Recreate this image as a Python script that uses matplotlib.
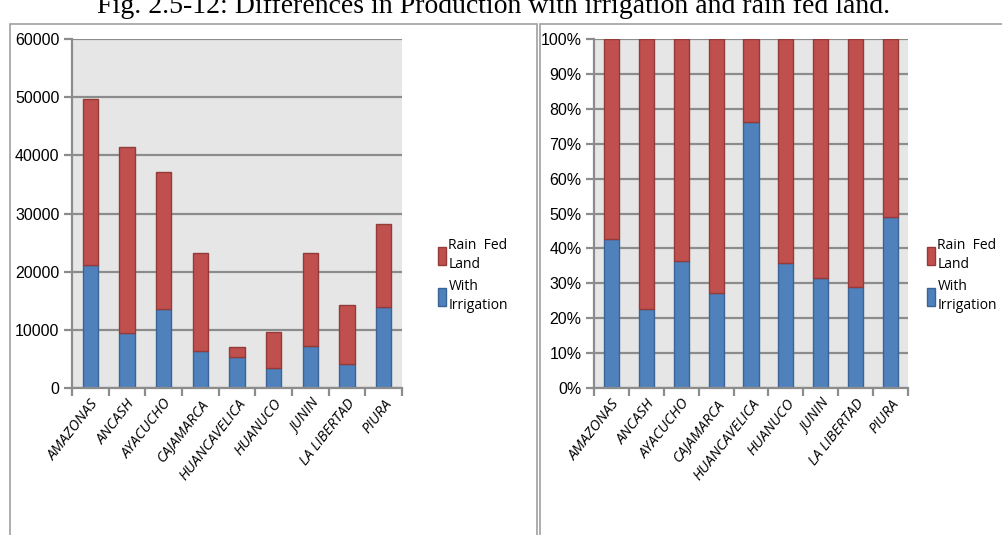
#
# Production with irrigation vs rain fed land, by department.
# Left: stacked absolute values, right: 100% stacked.
#

import numpy as np
import matplotlib
matplotlib.use("Agg")
import matplotlib.pyplot as plt
from matplotlib.patches import Rectangle
from matplotlib.ticker import PercentFormatter

departments = ["AMAZONAS", "ANCASH", "AYACUCHO", "CAJAMARCA", "HUANCAVELICA",
               "HUANUCO", "JUNIN", "LA LIBERTAD", "PIURA"]
irrigation = [21200, 9450, 13550, 6300, 5320, 3430, 7270, 4120, 13850]
rain_fed = [28500, 32050, 23550, 16830, 1670, 6130, 15860, 10130, 14430]

BLUE, BLUE_EDGE = "#4F81BD", "#3A6396"
RED, RED_EDGE = "#C0504D", "#943B39"
GRID = "#8C8C8C"
BG = "#E6E6E6"
NUM_FONT = ["Liberation Sans", "DejaVu Sans"]
LABEL_FONT = ["Open Sans", "DejaVu Sans"]

W, H = 1003, 535
fig = plt.figure(figsize=(W / 100, H / 100), dpi=100)


def px_axes(x0, y0, x1, y1):
    return fig.add_axes([x0 / W, 1 - y1 / H, (x1 - x0) / W, (y1 - y0) / H])


def style_axes(ax):
    ax.set_facecolor(BG)
    ax.set_axisbelow(True)
    ax.yaxis.grid(True, color=GRID, linewidth=1.6)
    for s in ("top", "right"):
        ax.spines[s].set_visible(False)
    for s in ("left", "bottom"):
        ax.spines[s].set_color(GRID)
        ax.spines[s].set_linewidth(1.6)
    ax.set_xlim(-0.5, len(departments) - 0.5)
    ax.set_xticks(np.arange(len(departments)))
    ax.set_xticklabels(departments, rotation=52, ha="right", rotation_mode="anchor",
                       fontstyle="italic", fontsize=10.5, family=LABEL_FONT)
    ax.tick_params(axis="x", which="major", length=0, pad=6)
    ax.set_xticks(np.arange(len(departments) + 1) - 0.5, minor=True)
    ax.tick_params(axis="x", which="minor", length=6, width=1.6, color=GRID)
    ax.tick_params(axis="y", length=6, width=1.6, color=GRID, pad=3)
    for lab in ax.get_yticklabels():
        lab.set_family(NUM_FONT)
        lab.set_fontsize(11.5)


def add_legend(ax, x, y):
    h = [Rectangle((0, 0), 1, 1, facecolor=RED, edgecolor=RED_EDGE),
         Rectangle((0, 0), 1, 1, facecolor=BLUE, edgecolor=BLUE_EDGE)]
    leg = ax.legend(h, ["Rain  Fed\nLand", "With\nIrrigation"], loc="upper left",
                    bbox_to_anchor=(x / W, 1 - y / H), bbox_transform=fig.transFigure,
                    frameon=False, handlelength=0.6, handleheight=1.6,
                    handletextpad=0.15, labelspacing=0.5, borderpad=0,
                    borderaxespad=0, prop={"family": LABEL_FONT, "size": 10})
    for t in leg.get_texts():
        t.set_linespacing(1.35)


x = np.arange(len(departments))
irr = np.array(irrigation, dtype=float)
rain = np.array(rain_fed, dtype=float)
total = irr + rain

# left: absolute values
ax1 = px_axes(72, 39, 402, 388)
ax1.bar(x, irr, width=0.42, color=BLUE, edgecolor=BLUE_EDGE, linewidth=1)
ax1.bar(x, rain, width=0.42, bottom=irr, color=RED, edgecolor=RED_EDGE, linewidth=1)
ax1.set_ylim(0, 60000)
ax1.set_yticks(np.arange(0, 60001, 10000))
style_axes(ax1)
add_legend(ax1, 438, 238)

# right: 100% stacked
ax2 = px_axes(594, 39, 908, 388)
ax2.bar(x, irr / total, width=0.43, color=BLUE, edgecolor=BLUE_EDGE, linewidth=1)
ax2.bar(x, rain / total, width=0.43, bottom=irr / total, color=RED,
        edgecolor=RED_EDGE, linewidth=1)
ax2.set_ylim(0, 1)
ax2.set_yticks(np.arange(0, 1.01, 0.1))
ax2.yaxis.set_major_formatter(PercentFormatter(1.0, decimals=0))
style_axes(ax2)
add_legend(ax2, 927, 238)

# panel frames
for x0, x1 in ((10, 537), (540, 1010)):
    fig.add_artist(Rectangle((x0 / W, -0.1), (x1 - x0) / W, 1.1 - 24 / H,
                             transform=fig.transFigure, fill=False,
                             edgecolor="#A0A0A0", linewidth=1.2))

fig.text(494 / W, 1 - 13 / H,
         "Fig. 2.5-12: Differences in Production with irrigation and rain fed land.",
         ha="center", va="baseline", fontsize=20, family="Liberation Serif")

fig.savefig("out.png", dpi=100)
